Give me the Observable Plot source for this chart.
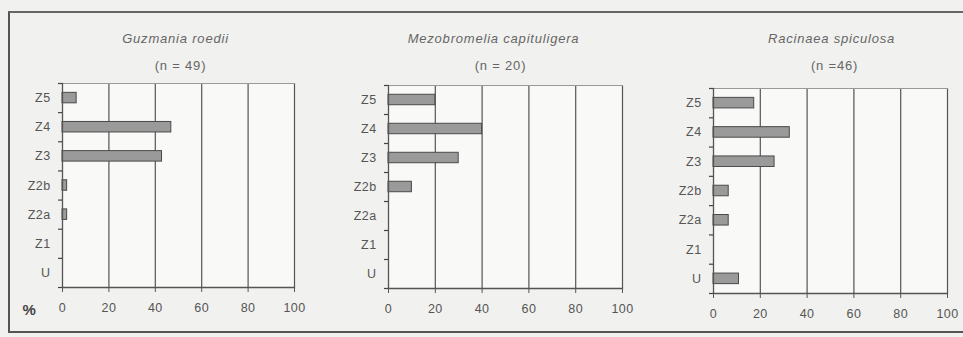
<!DOCTYPE html>
<html>
<head>
<meta charset="utf-8">
<script src="https://cdn.jsdelivr.net/npm/d3@7"></script>
<script src="https://cdn.jsdelivr.net/npm/@observablehq/plot@0.6"></script>
<style>
  html, body { margin: 0; padding: 0; background: #f1f1ef; }
  #wrap { position: relative; width: 963px; height: 337px; overflow: hidden; background: #f1f1ef; }
  #frame { position: absolute; left: 8px; top: 11px; width: 960px; height: 322px;
           border-left: 2px solid #555; border-top: 2px solid #666; border-bottom: 2px solid #555; box-sizing: border-box; }
  .panel { position: absolute; top: 0; }
  .panel svg { background: transparent; }
  .panel g[aria-label="text"] text { letter-spacing: 0.8px; }
  .panel g[aria-label="x-axis tick label"] text, .panel g[aria-label="y-axis tick label"] text { letter-spacing: 0.4px; }
</style>
</head>
<body>
<div id="wrap"><div id="frame"></div></div>
<script>
// Data
const categories = ["Z5", "Z4", "Z3", "Z2b", "Z2a", "Z1", "U"];
const species = ["Guzmania roedii", "Mezobromelia capituligera", "Racinaea spiculosa"];
const sampleSizes = ["(n = 49)", "(n = 20)", "(n =46)"];
const guzmaniaValues = [6.1, 46.9, 42.9, 2.0, 2.0, 0, 0];
const mezobromeliaValues = [20, 40, 30, 10, 0, 0, 0];
const racinaeaValues = [17.4, 32.6, 26.1, 6.5, 6.5, 0, 10.9];
const xTicks = [0, 20, 40, 60, 80, 100];
const gridTicks = [20, 40, 60, 80, 100];

const seriesList = [guzmaniaValues, mezobromeliaValues, racinaeaValues];

const layouts = [
  {left: 0, width: 320, ml: 62, mr: 26, mt: 83, mb: 50, tdx: -3, ndx: 2, pct: true},
  {left: 320, width: 320, ml: 68, mr: 18, mt: 85, mb: 49, tdx: -12, ndx: -5, pct: false},
  {left: 640, width: 323, ml: 73, mr: 16, mt: 88, mb: 44, tdx: 1, ndx: 4, pct: false}
];

const boundaries = d3.range(-0.5, categories.length, 1);
const font = "'Liberation Sans', Arial, sans-serif";
const textColor = "#555";
const tickLen = 4;

layouts.forEach((L, k) => {
  const vals = seriesList[k];
  const data = categories.map((c, i) => ({cat: c, i, v: vals[i]})).filter(d => d.v > 0);
  const half = 0.18;
  const plotWidth = L.width - L.ml - L.mr;
  const marks = [
    Plot.frame({fill: "#f9f9f8", stroke: null}),
    Plot.ruleX(gridTicks, {stroke: "#555", strokeWidth: 1.2}),
    Plot.frame({anchor: "top", stroke: "#999"}),
    Plot.rect(data, {x1: 0, x2: "v", y1: d => d.i - half, y2: d => d.i + half,
                     fill: "#9a9a9a", stroke: "#4a4a4a", strokeWidth: 1}),
    Plot.frame({anchor: "left", stroke: "#555", strokeWidth: 1.3}),
    Plot.frame({anchor: "bottom", stroke: "#555", strokeWidth: 1.3}),
    Plot.tickY(boundaries, {y: d => d, dx: -tickLen, insetRight: plotWidth - tickLen, stroke: "#444", strokeWidth: 1.2}),
    Plot.axisY(d3.range(categories.length), {tickSize: 0, tickPadding: 12, tickFormat: i => categories[i],
      fontSize: 12.5, fill: textColor, fontFamily: font}),
    Plot.axisX(xTicks, {tickSize: 5, tickPadding: 11, stroke: "#555", fill: textColor, fontSize: 12.5, fontFamily: font}),
    Plot.text([species[k]], {frameAnchor: "top", dy: -(L.mt - 33), dx: L.tdx, fontSize: 13, fontStyle: "italic",
      fill: "#666", fontFamily: font}),
    Plot.text([sampleSizes[k]], {frameAnchor: "top", dy: -(L.mt - 60), dx: L.ndx, fontSize: 13,
      fill: "#666", fontFamily: font})
  ];
  if (L.pct) {
    marks.push(Plot.text(["%"], {frameAnchor: "bottom-left", dx: -(L.ml - 22), dy: 27, fontSize: 15, fontWeight: "bold",
      fill: "#444", fontFamily: font}));
  }
  const chart = Plot.plot({
    width: L.width,
    height: 337,
    marginLeft: L.ml, marginRight: L.mr, marginTop: L.mt, marginBottom: L.mb,
    x: {domain: [0, 100], label: null},
    y: {domain: [-0.5, categories.length - 0.5], reverse: true, axis: null, label: null},
    style: {background: "transparent", overflow: "visible"},
    marks
  });
  const div = document.createElement("div");
  div.className = "panel";
  div.style.left = L.left + "px";
  div.appendChild(chart);
  document.getElementById("wrap").appendChild(div);
});
</script>
</body>
</html>
